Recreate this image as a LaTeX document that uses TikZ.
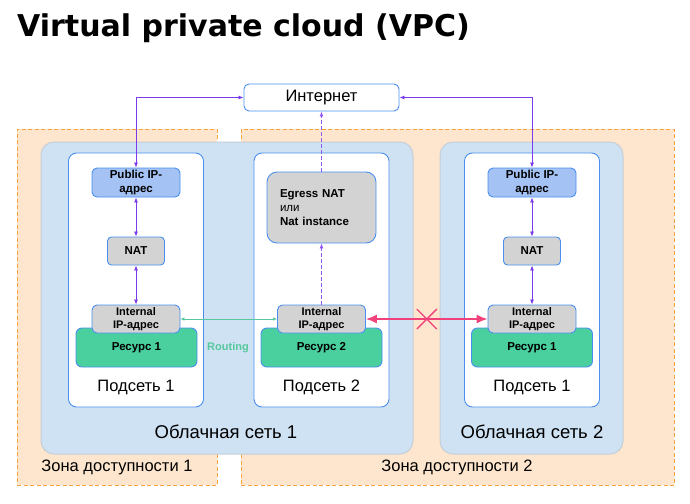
\documentclass[tikz,border=0pt]{standalone}
\usepackage{fontspec}
\setmainfont{Liberation Sans}
\newfontfamily\titlefont{DejaVu Sans}
\usetikzlibrary{arrows.meta}

\definecolor{zonefill}{HTML}{FDE6CD}
\definecolor{zoneline}{HTML}{F5A33A}
\definecolor{cloudfill}{HTML}{CFE2F3}
\definecolor{cloudline}{HTML}{C6CED8}
\definecolor{netblue}{HTML}{4A8FEF}
\definecolor{pubfill}{HTML}{A4C2F4}
\definecolor{grayfill}{HTML}{D3D3D3}
\definecolor{resfill}{HTML}{49D09E}
\definecolor{linkviolet}{HTML}{7C3AED}
\definecolor{blockpink}{HTML}{F0417A}
\definecolor{routegreen}{HTML}{55C89D}

\tikzset{
  zone/.style={draw=zoneline, fill=zonefill, dash pattern=on 4pt off 2.5pt, line width=0.8pt, inner sep=0pt},
  cloud/.style={draw=cloudline, fill=cloudfill, line width=1pt, rounded corners=13pt, inner sep=0pt},
  subnet/.style={draw=netblue, fill=white, line width=0.9pt, rounded corners=8pt, inner sep=0pt},
  pubip/.style={draw=netblue, fill=pubfill, line width=0.9pt, rounded corners=5pt, minimum width=88pt, minimum height=29pt, inner sep=0pt, align=center, font=\bfseries\fontsize{11.5}{14}\selectfont},
  natbox/.style={draw=netblue, fill=grayfill, line width=0.9pt, rounded corners=4pt, minimum width=57pt, minimum height=28pt, inner sep=0pt, font=\bfseries\fontsize{11.5}{14}\selectfont},
  intip/.style={draw=netblue, fill=grayfill, line width=0.9pt, rounded corners=5pt, minimum width=88pt, minimum height=28pt, inner sep=0pt, align=center, font=\bfseries\fontsize{11}{13.5}\selectfont},
  resbox/.style={draw=netblue, fill=resfill, line width=0.9pt, rounded corners=6pt, minimum width=121pt, minimum height=39pt, inner sep=0pt, font=\bfseries\fontsize{11.5}{14}\selectfont},
  link/.style={draw=linkviolet, line width=0.8pt, {Latex[length=5pt,width=4pt]}-{Latex[length=5pt,width=4pt]}},
  uplink/.style={draw=linkviolet!85!white, line width=0.8pt, dash pattern=on 3.5pt off 2.5pt, -{Latex[length=5pt,width=4pt]}},
  routing/.style={draw=routegreen, line width=0.6pt, {Latex[length=4pt,width=3.5pt]}-{Latex[length=4pt,width=3.5pt]}},
  blocked/.style={draw=blockpink, line width=1.5pt, {Latex[length=11pt,width=9pt]}-{Latex[length=11pt,width=9pt]}},
  lbl/.style={inner sep=0pt, font=\fontsize{16.5}{18}\selectfont}
}

\begin{document}
\begin{tikzpicture}[x=1pt, y=-1pt]
  \useasboundingbox (0,0) rectangle (690,503);

  % title
  \node[anchor=base west, inner sep=0pt, font=\titlefont\bfseries\fontsize{30}{36}\selectfont] (title) at (17,37) {Virtual private cloud (VPC)};

  % zones and cloud networks
  \node[zone, minimum width=200pt, minimum height=356pt] (zone1) at (117,307) {};
  \node[zone, minimum width=433pt, minimum height=356pt] (zone2) at (457.5,307) {};
  \node[cloud, minimum width=372pt, minimum height=312pt] (cloud1) at (227,298) {};
  \node[cloud, minimum width=183pt, minimum height=312pt] (cloud2) at (531.5,298) {};

  % subnets
  \foreach \n/\x in {1/136, 2/321.5, 3/532} {
    \node[subnet, minimum width=135pt, minimum height=254pt] (sub\n) at (\x,280) {};
  }

  % internet
  \node[draw=netblue, fill=white, line width=0.9pt, rounded corners=5pt, minimum width=155pt, minimum height=27pt, font=\fontsize{16.5}{18}\selectfont] (inet) at (321.5,97.5) {Интернет};

  % public ip + nat
  \foreach \n/\x in {1/136, 3/532} {
    \node[pubip] (pub\n) at (\x,182.5) {Public IP-\\адрес};
    \node[natbox] (nat\n) at (\x,251) {NAT};
  }

  \node[draw=netblue, fill=grayfill, line width=0.9pt, rounded corners=10pt, minimum height=71pt, text width=83pt, inner xsep=13pt, inner ysep=0pt, align=left, font=\fontsize{11.5}{14}\selectfont] (egress) at (321.5,207.5) {\textbf{Egress NAT}\\или\\\textbf{Nat instance}};

  % resources
  \node[resbox] (res1) at (136.5,347.5) {Ресурс 1};
  \node[resbox] (res2) at (321.5,347.5) {Ресурс 2};
  \node[resbox] (res3) at (532,347.5) {Ресурс 1};
  \node[intip] (int1) at (136,319) {Internal\\IP-адрес};
  \node[intip] (int2) at (321.5,319) {Internal\\IP-адрес};
  \node[intip] (int3) at (532,319) {Internal\\IP-адрес};

  % labels
  \node[lbl] (sublbl1) at (136,387) {Подсеть 1};
  \node[lbl] (sublbl2) at (321.5,387) {Подсеть 2};
  \node[lbl] (sublbl3) at (532,387) {Подсеть 1};
  \node[lbl, font=\fontsize{18.5}{20}\selectfont] (cloudlbl1) at (226,432) {Облачная сеть 1};
  \node[lbl, font=\fontsize{18.5}{20}\selectfont] (cloudlbl2) at (532,432) {Облачная сеть 2};
  \node[lbl, font=\fontsize{16.5}{18}\selectfont] (zonelbl1) at (117,467) {Зона доступности 1};
  \node[lbl, font=\fontsize{16.5}{18}\selectfont] (zonelbl2) at (457,467) {Зона доступности 2};
  \node[inner sep=0pt, text=routegreen, font=\bfseries\fontsize{11}{14}\selectfont] (routelbl) at (228,348) {Routing};

  % connectors
  \draw[link] (inet.west) -| (pub1.north);
  \draw[link] (inet.east) -| (pub3.north);
  \foreach \n in {1,3} {
    \draw[link] (pub\n) -- (nat\n);
    \draw[link] (nat\n) -- (int\n);
  }
  \draw[uplink] (int2) -- (egress);
  \draw[uplink] (egress) -- (inet);
  \draw[routing] (int1) -- (int2);
  \draw[blocked] (int2) -- coordinate (cross) (int3);
  \draw[blockpink, line width=1.4pt] ([shift={(-10,-10)}]cross) -- ([shift={(10,10)}]cross)
    ([shift={(-10,10)}]cross) -- ([shift={(10,-10)}]cross);
\end{tikzpicture}
\end{document}
